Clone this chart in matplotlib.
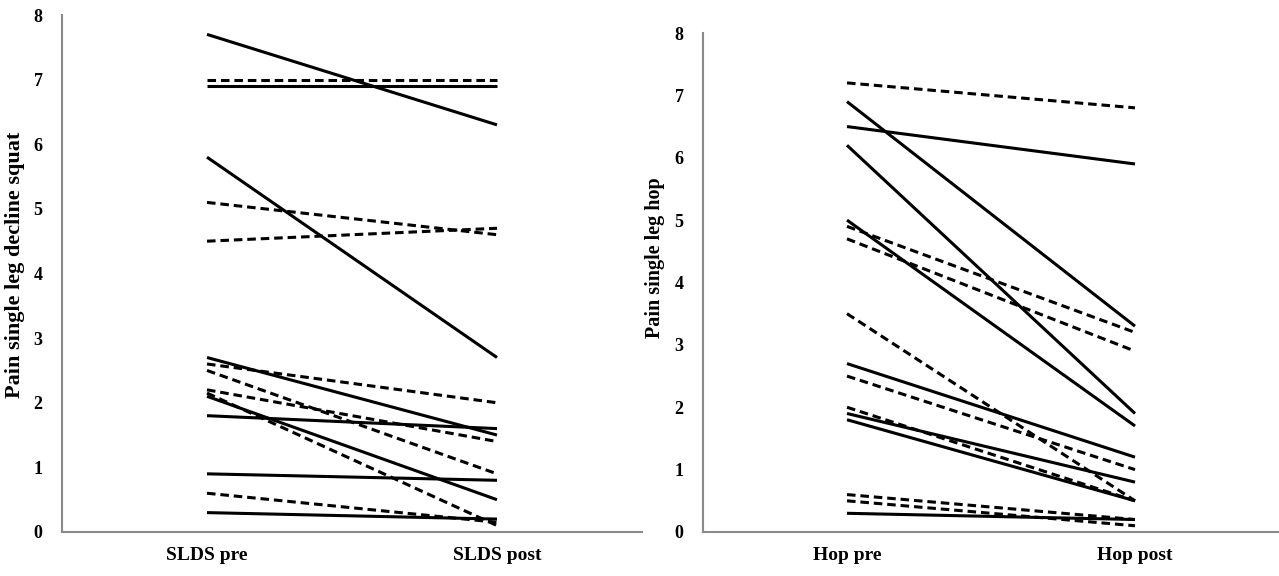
import matplotlib
matplotlib.use("Agg")
import matplotlib.pyplot as plt

# pain scores (pre, post) per subject
slds_pre = [7.7, 7.0, 6.9, 5.8, 5.1, 4.5, 2.7, 2.6, 2.5, 2.2, 2.15, 2.1, 1.8, 0.9, 0.6, 0.3]
slds_post = [6.3, 7.0, 6.9, 2.7, 4.6, 4.7, 1.5, 2.0, 0.9, 1.4, 0.1, 0.5, 1.6, 0.8, 0.15, 0.2]
slds_dashed = [False, True, False, False, True, True, False, True, True, True, True, False, False, False, True, False]

hop_pre = [7.2, 6.9, 6.5, 6.2, 5.0, 4.9, 4.7, 3.5, 2.7, 2.5, 2.0, 1.9, 1.8, 0.6, 0.5, 0.3]
hop_post = [6.8, 3.3, 5.9, 1.9, 1.7, 3.2, 2.9, 0.5, 1.2, 1.0, 0.5, 0.8, 0.5, 0.2, 0.1, 0.2]
hop_dashed = [True, False, False, False, False, True, True, True, False, True, True, False, False, True, True, False]

slds_labels = ["SLDS pre", "SLDS post"]
hop_labels = ["Hop pre", "Hop post"]
yticks = [0, 1, 2, 3, 4, 5, 6, 7, 8]

plt.rcParams['font.family'] = ['Liberation Serif', 'DejaVu Serif']
plt.rcParams['font.weight'] = 'bold'

fig = plt.figure(figsize=(12.79, 5.76), dpi=100)
ax1 = fig.add_axes([62 / 1279, 44 / 576, 580 / 1279, 517 / 576])
ax2 = fig.add_axes([703 / 1279, 44 / 576, 576 / 1279, 499 / 576])

dash = (0, (2.8, 1.6))


def draw(ax, pre, post, dashed, labels, ylabel, lsize, ly):
    for a, b, d in zip(pre, post, dashed):
        ax.plot([0, 1], [a, b], color="black", lw=2.2,
                linestyle=dash if d else "-", solid_capstyle="butt")
    ax.set_xlim(-0.5, 1.5)
    ax.set_ylim(0, 8)
    ax.set_xticks([0, 1])
    ax.set_xticklabels(labels, fontsize=14, fontweight="bold")
    ax.set_yticks(yticks)
    ax.set_yticklabels([str(t) for t in yticks], fontsize=13, fontweight="bold")
    ax.tick_params(axis="y", length=0, pad=14)
    ax.tick_params(axis="x", length=0, pad=11)
    for s in ["top", "right"]:
        ax.spines[s].set_visible(False)
    for s in ["left", "bottom"]:
        ax.spines[s].set_color("#8a8a8a")
        ax.spines[s].set_linewidth(1.5)
    ax.set_ylabel(ylabel, fontsize=lsize, fontweight="bold")
    ax.yaxis.set_label_coords(ly[0], ly[1])


draw(ax1, slds_pre, slds_post, slds_dashed, slds_labels,
     "Pain single leg decline squat", 16, (-0.064, 0.516))
draw(ax2, hop_pre, hop_post, hop_dashed, hop_labels,
     "Pain single leg hop", 14.5, (-0.066, 0.549))

fig.savefig("out.png", dpi=100)
